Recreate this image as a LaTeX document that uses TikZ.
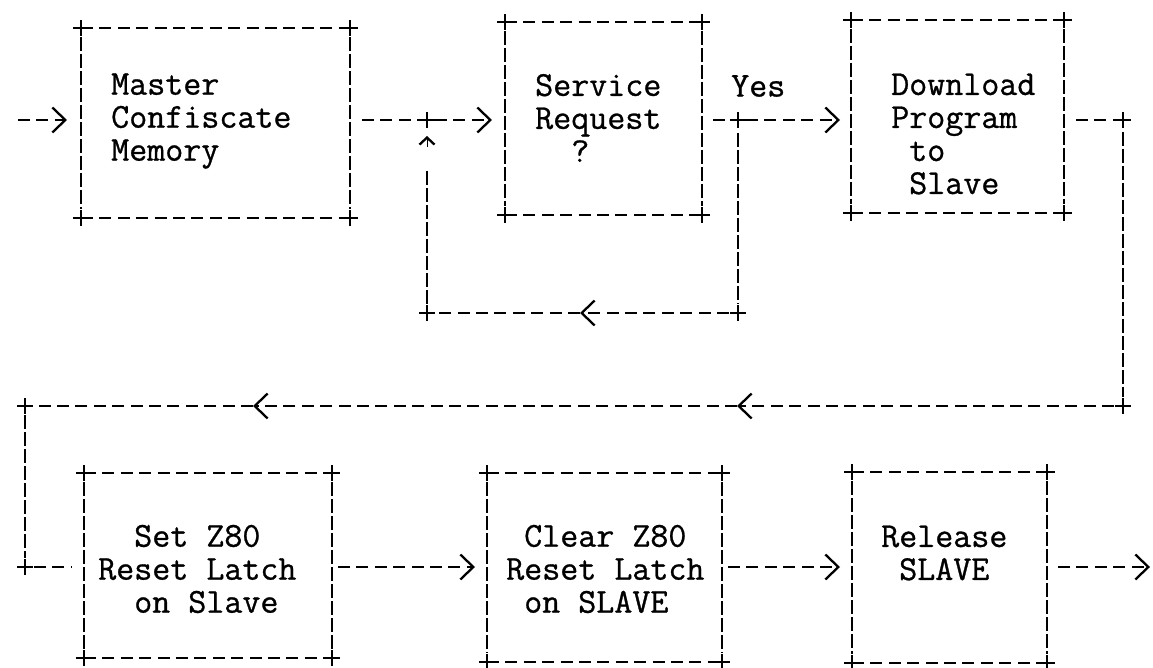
\documentclass[tikz,border=0pt]{standalone}
\usepackage{fontspec}
\newfontfamily\tw{Latin Modern Mono}[FakeBold=0.8]
\usetikzlibrary{arrows.meta}
\tikzset{
  hd/.style={line width=2.4pt, dash pattern=on 12pt off 6.4pt},
  vd/.style={line width=2.2pt, dash pattern=on 14pt off 3pt},
  chev/.style={-{Straight Barb[length=13pt,width=25pt,line width=2.3pt]}},
  caret/.style={-{Straight Barb[length=7pt,width=15pt,line width=2.3pt]}},
  boxn/.style={draw=none, inner sep=0pt, outer sep=0pt},
  txt/.style={font=\tw\fontsize{35}{33}\selectfont, align=left, inner sep=0pt, anchor=west},
}
\newcommand\plusmark[1]{\draw[line width=2.2pt] (#1) +(-8,0) -- +(8,0) (#1) +(0,-8) -- +(0,8);}
\newcommand\asciibox[1]{%
  \draw[hd] (#1.north west) -- (#1.north east);
  \draw[hd] (#1.south west) -- (#1.south east);
  \draw[vd, shorten <=9pt, shorten >=9pt] (#1.north west) -- (#1.south west);
  \draw[vd, shorten <=9pt, shorten >=9pt] (#1.north east) -- (#1.south east);
  \plusmark{#1.north west}\plusmark{#1.north east}\plusmark{#1.south west}\plusmark{#1.south east}}
\begin{document}
\begin{tikzpicture}[x=1pt,y=1pt]
\useasboundingbox (0,0) rectangle (1153,-668);
% boxes
\node[boxn, minimum width=269pt, minimum height=190pt] (b1) at (215.5,-123) {};
\node[boxn, minimum width=197pt, minimum height=193pt] (b2) at (603.5,-118.5) {};
\node[boxn, minimum width=213pt, minimum height=193pt] (b3) at (957.5,-116.5) {};
\node[boxn, minimum width=248pt, minimum height=185pt] (b4) at (208,-565.5) {};
\node[boxn, minimum width=235pt, minimum height=189pt] (b5) at (604.5,-567.5) {};
\node[boxn, minimum width=195pt, minimum height=191pt] (b6) at (949.5,-567.5) {};
\asciibox{b1}\asciibox{b2}\asciibox{b3}\asciibox{b4}\asciibox{b5}\asciibox{b6}
% texts
\node[txt] (t1) at (111,-121) {Master\\Confiscate\\Memory};
\node[txt] (t2) at (535,-118) {Service\\Request\\\hphantom{xx}?};
\node[txt] (t3) at (891,-134) {Download\\Program\\\hphantom{x}to\\\hphantom{x}Slave};
\node[txt] (yes) at (731,-86) {Yes};
\node[txt] (t4) at (98,-569) {\hphantom{xx}Set Z80\\Reset Latch\\\hphantom{xx}on Slave};
\node[txt] (t5) at (506,-569) {\hphantom{x}Clear Z80\\Reset Latch\\\hphantom{x}on SLAVE};
\node[txt] (t6) at (881,-553) {Release\\\hphantom{x}SLAVE};
% coordinates
\coordinate (in) at (18,-120);
\coordinate (j1) at (427,-120);
\coordinate (j2) at (738,-120);
\coordinate (c1) at (738,-313);
\coordinate (m1) at (580,-313);
\coordinate (c2) at (427,-313);
\coordinate (j3) at (1123,-120);
\coordinate (c3) at (1123,-406);
\coordinate (m2) at (737,-406);
\coordinate (m3) at (253,-406);
\coordinate (c4) at (25,-406);
\coordinate (c5) at (25,-567);
\coordinate (out) at (1150,-567);
% row 1 connectors
\draw[hd, chev, shorten >=14pt] (in) -- (b1.west |- in);
\draw[hd, shorten <=12pt] (b1.east |- j1) -- (j1);
\draw[hd, chev, shorten <=8pt, shorten >=13pt] (j1) -- (b2.west |- j1);
\draw[hd, shorten <=11pt] (b2.east |- j2) -- (j2);
\draw[hd, chev, shorten <=8pt, shorten >=11pt] (j2) -- (b3.west |- j2);
\draw[vd, shorten <=13pt, shorten >=9pt] (j2) -- (c1);
\draw[hd, chev, shorten <=9pt] (c1) -- (m1);
\draw[hd, shorten >=9pt] (m1) -- (c2);
\draw[vd, shorten <=9pt] (c2) -- ([yshift=-48pt]j1);
\draw[caret] ([yshift=-27pt]j1) -- ([yshift=-16pt]j1);
\plusmark{j1}\plusmark{j2}\plusmark{c1}\plusmark{c2}
% return to row 2
\draw[hd, shorten <=12pt] (b3.east |- j3) -- (j3);
\draw[vd, shorten <=12pt, shorten >=9pt] (j3) -- (c3);
\draw[hd, chev, shorten <=9pt] (c3) -- (m2);
\draw[hd, chev] (m2) -- (m3);
\draw[hd, shorten >=9pt] (m3) -- (c4);
\draw[vd, shorten <=9pt, shorten >=9pt] (c4) -- (c5);
\draw[hd, shorten <=9pt, shorten >=13pt] (c5) -- (b4.west |- c5);
\plusmark{j3}\plusmark{c3}\plusmark{c4}\plusmark{c5}
% row 2 connectors
\draw[hd, chev, shorten <=6pt, shorten >=12pt] (b4.east |- c5) -- (b5.west |- c5);
\draw[hd, chev, shorten <=6pt, shorten >=12pt] (b5.east |- c5) -- (b6.west |- c5);
\draw[hd, chev, shorten <=11pt] (b6.east |- out) -- (out);
\end{tikzpicture}
\end{document}
